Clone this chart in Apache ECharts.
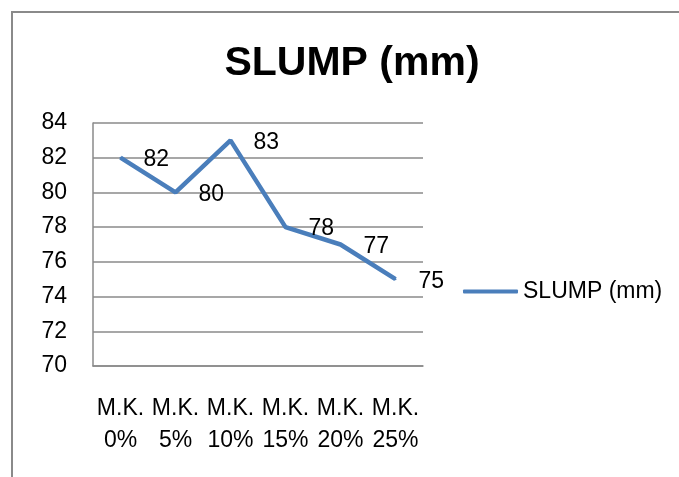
<!DOCTYPE html>
<html>
<head>
<meta charset="utf-8">
<script src="https://cdn.jsdelivr.net/npm/echarts@6/dist/echarts.min.js"></script>
<style>
  html, body { margin: 0; padding: 0; background: #fff; }
  #chart { width: 679px; height: 477px; }
</style>
</head>
<body>
<div id="chart"></div>
<script>
const categories = ['M.K.\n0%', 'M.K.\n5%', 'M.K.\n10%', 'M.K.\n15%', 'M.K.\n20%', 'M.K.\n25%'];
const slump = [82, 80, 83, 78, 77, 75];
const seriesName = 'SLUMP (mm)';

const lineColor = '#4a7ebb';
const gridColor = '#8a8a8a';
const font = '"Liberation Sans", Arial, sans-serif';

const chart = echarts.init(document.getElementById('chart'));

chart.setOption({
  backgroundColor: '#fff',
  animation: false,
  graphic: [{
    type: 'rect',
    shape: { x: 12, y: 12, width: 800, height: 600 },
    style: { fill: 'none', stroke: gridColor, lineWidth: 2 },
    silent: true,
  }],
  title: {
    text: 'SLUMP (mm)',
    left: 347,
    top: 59,
    textAlign: 'center',
    textVerticalAlign: 'middle',
    textStyle: {
      fontFamily: font,
      fontWeight: 'bold',
      fontSize: 41,
      color: '#000',
    },
  },
  legend: {
    left: 458,
    top: 275,
    itemWidth: 55,
    itemHeight: 4,
    itemGap: 6,
    icon: 'roundRect',
    data: [{ name: seriesName }],
    textStyle: { fontFamily: font, fontSize: 23, color: '#000' },
  },
  grid: {
    left: 93,
    right: 256,
    top: 123,
    bottom: 111,
  },
  xAxis: {
    type: 'category',
    data: categories,
    boundaryGap: true,
    axisLine: { lineStyle: { color: gridColor, width: 1.5 } },
    axisTick: { show: false },
    axisLabel: {
      interval: 0,
      margin: 27,
      fontFamily: font,
      fontSize: 23,
      lineHeight: 32,
      color: '#000',
    },
  },
  yAxis: {
    type: 'value',
    min: 70,
    max: 84,
    interval: 2,
    axisLine: { show: true, lineStyle: { color: gridColor, width: 1.5 } },
    axisTick: { show: false },
    axisLabel: {
      margin: 26,
      fontFamily: font,
      fontSize: 23,
      color: '#000',
    },
    splitLine: { lineStyle: { color: gridColor, width: 1.5 } },
  },
  series: [{
    name: seriesName,
    type: 'line',
    data: slump,
    symbol: 'circle',
    symbolSize: 2,
    lineStyle: { color: lineColor, width: 4.5 },
    itemStyle: { color: lineColor },
    label: {
      show: true,
      position: 'right',
      distance: 22,
      offset: [0, 2],
      fontFamily: font,
      fontSize: 23,
      color: '#000',
    },
  }],
});
</script>
</body>
</html>
